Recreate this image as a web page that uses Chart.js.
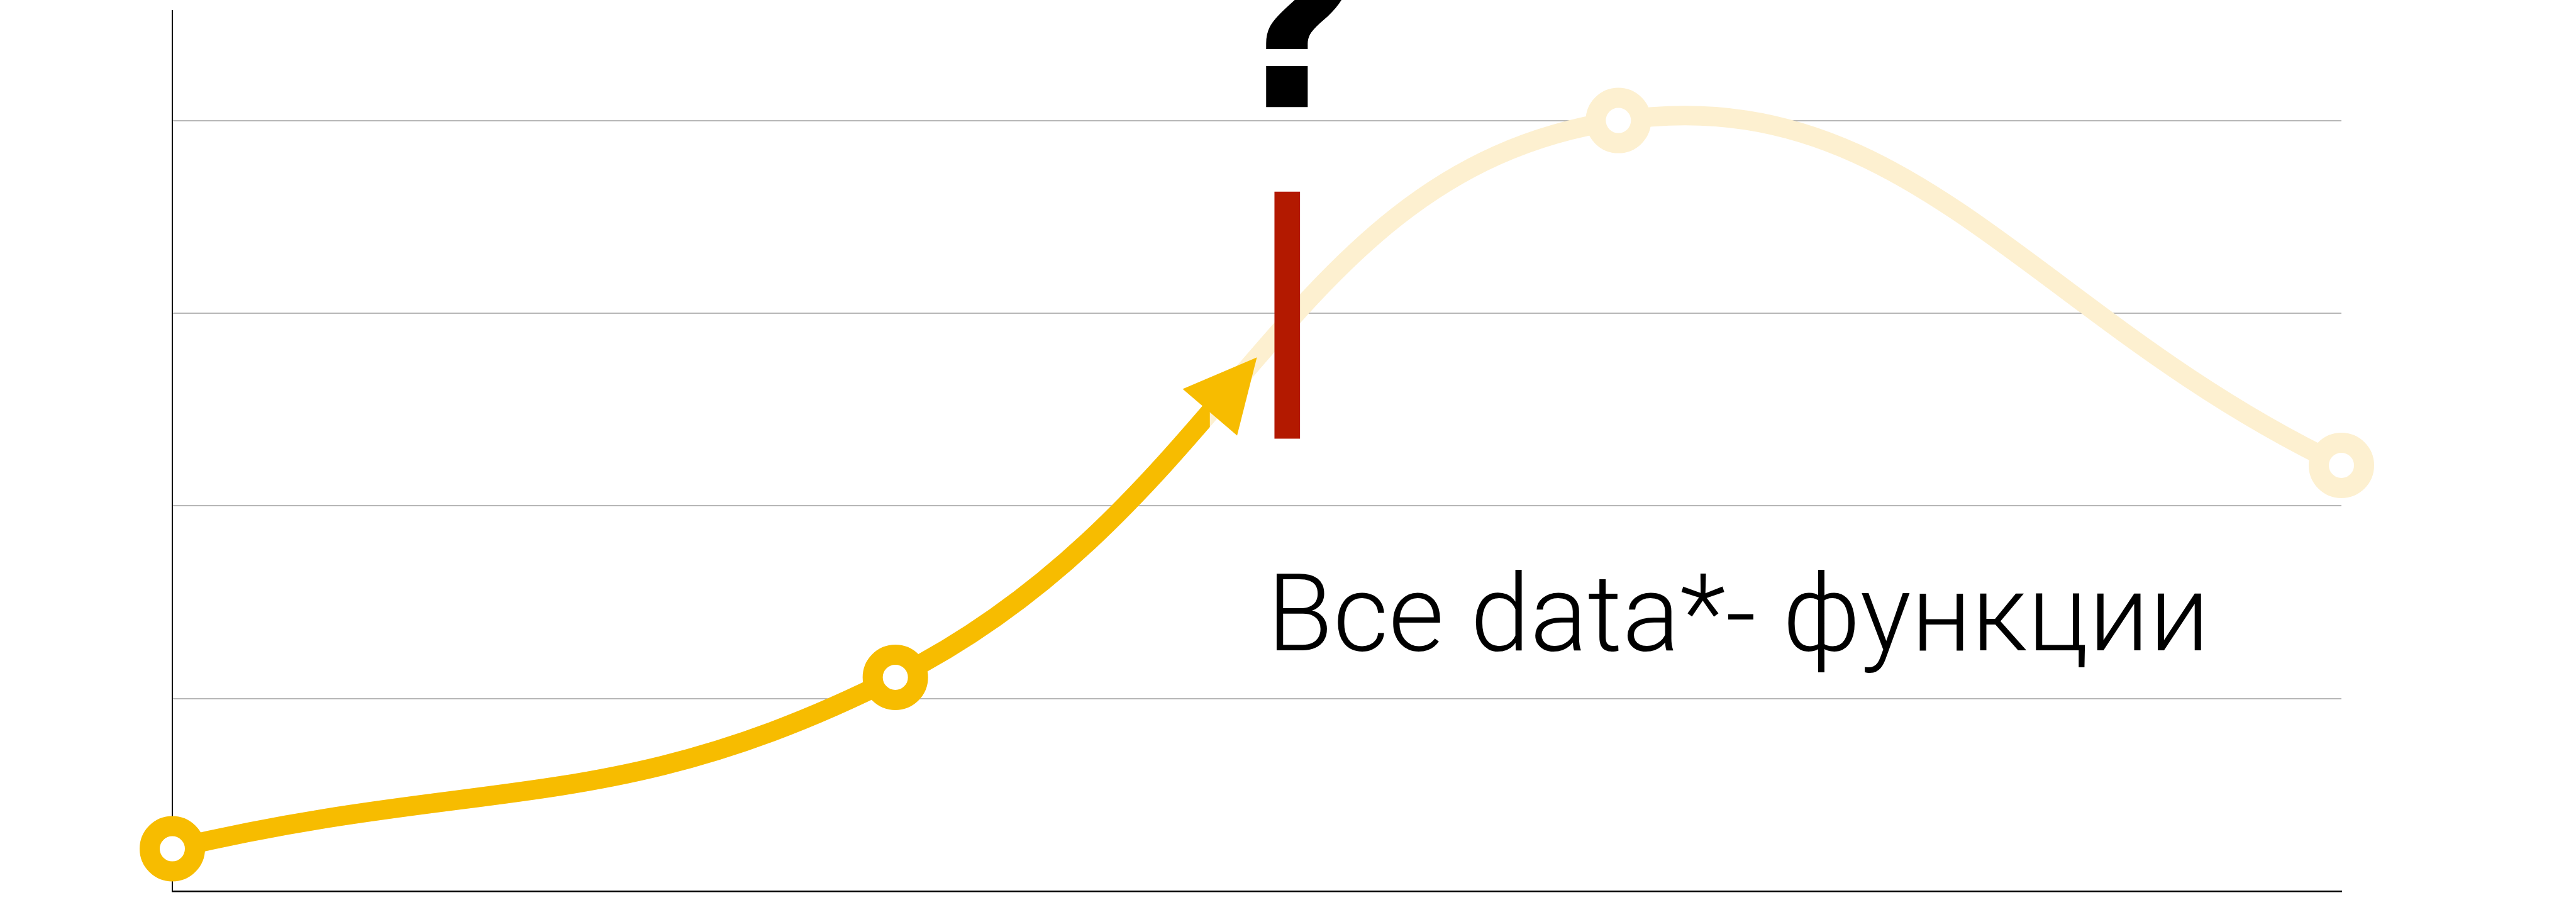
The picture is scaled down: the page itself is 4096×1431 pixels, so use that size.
<!DOCTYPE html>
<html>
<head>
<meta charset="utf-8">
<script src="https://cdn.jsdelivr.net/npm/chart.js@4.4.1/dist/chart.umd.min.js"></script>
<style>
  html, body { margin: 0; padding: 0; background: #fff; }
  #wrap { width: 4096px; height: 1431px; position: relative; }
</style>
</head>
<body>
<div id="wrap"><canvas id="id-chartProgress"></canvas></div>
<script>
// ----------------------------- data -----------------------------
var stepX = [0, 1, 2, 3];
var stepValues = [0.22, 1.11, 4.0, 2.21];
var yGridTicks = [0, 1, 2, 3, 4];
var yTop = 4.57;

// how far the "done" part goes (x units) and where the arrow points
var doneUntil = 1.435;
var arrowTipAt = 1.5;

// red marker bar
var barAt = [1.542];
var barRange = [[2.35, 3.63]];

// texts
var noteText = "Все data*- функции";
var notePos = [1.514, 1.25];
var markText = "?";
var markPos = [1.552, 4.07];

var doneColor = "#F7BC00";
var todoColor = "#FDF0D0";
var barColor = "#B31900";

var points = stepX.map(function(x, i) { return {x: x, y: stepValues[i]}; });
var bars = barAt.map(function(x, i) { return {x: x, y: barRange[i]}; });

// point on the bezier segment i -> i+1 at a given x pixel
function curveAt(meta, i, px) {
  var a = meta.data[i], b = meta.data[i + 1];
  var P = [[a.x, a.y], [a.cp2x, a.cp2y], [b.cp1x, b.cp1y], [b.x, b.y]];
  function bz(t, k) {
    var u = 1 - t;
    return u*u*u*P[0][k] + 3*u*u*t*P[1][k] + 3*u*t*t*P[2][k] + t*t*t*P[3][k];
  }
  var lo = 0, hi = 1;
  for (var n = 0; n < 40; n++) {
    var mid = (lo + hi) / 2;
    if (bz(mid, 0) < px) lo = mid; else hi = mid;
  }
  return {x: bz(lo, 0), y: bz(lo, 1)};
}

var progressPlugin = {
  id: "progress",
  beforeDatasetDraw: function(chart, args) {
    if (args.index !== 1) return;
    var ctx = chart.ctx;
    var cut = chart.scales.x.getPixelForValue(doneUntil);
    ctx.save();
    ctx.beginPath();
    ctx.rect(0, 0, cut, chart.height);
    ctx.clip();
  },
  afterDatasetDraw: function(chart, args) {
    if (args.index !== 1) return;
    var ctx = chart.ctx;
    ctx.restore();
    var meta = chart.getDatasetMeta(1);
    var seg = Math.floor(doneUntil);
    var base = curveAt(meta, seg, chart.scales.x.getPixelForValue(doneUntil));
    var tip = curveAt(meta, seg, chart.scales.x.getPixelForValue(arrowTipAt));
    var dx = tip.x - base.x, dy = tip.y - base.y;
    var len = Math.sqrt(dx*dx + dy*dy);
    var nx = -dy / len, ny = dx / len;
    var half = 57;
    ctx.save();
    ctx.fillStyle = doneColor;
    ctx.beginPath();
    ctx.moveTo(tip.x, tip.y);
    ctx.lineTo(base.x + nx*half, base.y + ny*half);
    ctx.lineTo(base.x - nx*half, base.y - ny*half);
    ctx.closePath();
    ctx.fill();
    ctx.restore();
  },
  afterDraw: function(chart) {
    var ctx = chart.ctx;
    var xs = chart.scales.x, ys = chart.scales.y;
    ctx.save();
    ctx.fillStyle = "#000";
    ctx.textBaseline = "alphabetic";
    ctx.textAlign = "left";
    ctx.font = "300 171px Roboto";
    ctx.fillText(noteText, xs.getPixelForValue(notePos[0]), ys.getPixelForValue(notePos[1]));
    ctx.textAlign = "center";
    ctx.font = "bold 375px 'DejaVu Sans'";
    ctx.fillText(markText, xs.getPixelForValue(markPos[0]), ys.getPixelForValue(markPos[1]));
    ctx.restore();
  }
};

new Chart("id-chartProgress", {
  type: "line",
  data: {
    datasets: [{
      label: "todo",
      data: points,
      order: 3,
      borderColor: todoColor,
      borderWidth: 31,
      tension: 0.43,
      clip: false,
      pointRadius: function(c) { return c.dataIndex < 2 ? 0 : 36; },
      pointBorderWidth: 32,
      pointBorderColor: todoColor,
      pointBackgroundColor: "#fff"
    }, {
      label: "done",
      data: points,
      order: 2,
      borderColor: doneColor,
      borderWidth: 31,
      tension: 0.43,
      clip: false,
      pointRadius: function(c) { return c.dataIndex < 2 ? 36 : 0; },
      pointBorderWidth: 32,
      pointBorderColor: doneColor,
      pointBackgroundColor: "#fff"
    }, {
      type: "bar",
      label: "now",
      data: bars,
      order: 1,
      backgroundColor: barColor,
      barThickness: 40,
      clip: false
    }]
  },
  options: {
    responsive: true,
    maintainAspectRatio: false,
    animation: false,
    events: [],
    layout: {autoPadding: false, padding: {left: 274, right: 373, top: 17, bottom: 14}},
    plugins: {legend: {display: false}, tooltip: {enabled: false}},
    scales: {
      x: {
        type: "linear",
        min: stepX[0],
        max: stepX[stepX.length - 1],
        offset: false,
        ticks: {display: false},
        grid: {display: false, drawTicks: false},
        border: {display: true, color: "#000", width: 2.5}
      },
      y: {
        min: 0,
        max: yTop,
        afterBuildTicks: function(s) { s.ticks = yGridTicks.map(function(v) { return {value: v}; }); },
        ticks: {display: false},
        grid: {
          drawTicks: false,
          lineWidth: 2,
          color: function(c) { return c.tick && c.tick.value > 0 ? "#B6B6B6" : "rgba(0,0,0,0)"; }
        },
        border: {display: true, color: "#000", width: 2}
      }
    }
  },
  plugins: [progressPlugin]
});
</script>
</body>
</html>
